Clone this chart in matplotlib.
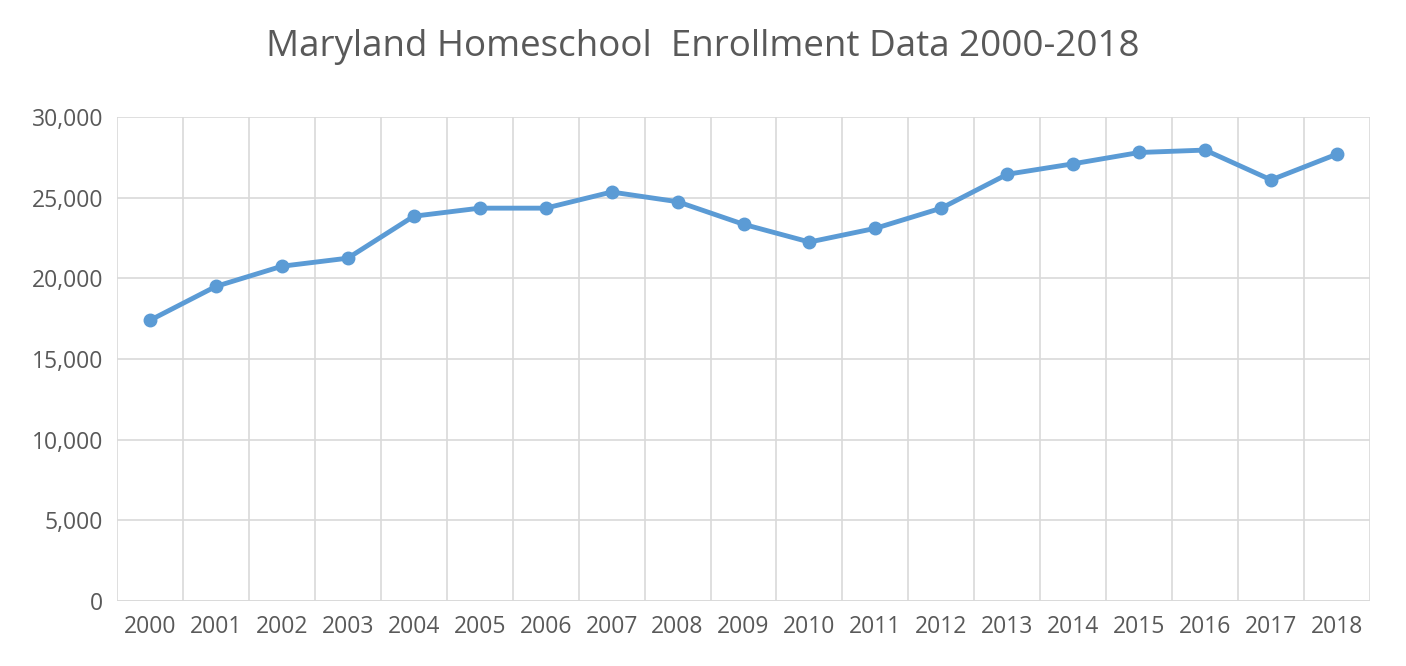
import matplotlib.pyplot as plt
from matplotlib.ticker import FuncFormatter, MultipleLocator

years = [str(y) for y in range(2000, 2019)]
enrollment = [17400, 19500, 20750, 21250, 23850, 24350, 24350, 25350, 24750, 23350,
              22250, 23100, 24350, 26450, 27100, 27800, 27950, 26100, 27700]

plt.rcParams['font.family'] = ['Open Sans', 'DejaVu Sans']
fig = plt.figure(figsize=(14.06, 6.66), dpi=100)
ax = fig.add_axes([117 / 1406, 65 / 666, 1253 / 1406, 484 / 666])

x = range(len(years))
ax.plot(x, enrollment, color="#5b9bd5", linewidth=3.5, marker="o", markersize=9, zorder=3)

ax.set_xlim(-0.5, len(years) - 0.5)
ax.set_ylim(0, 30000)
ax.yaxis.set_major_locator(MultipleLocator(5000))
ax.yaxis.set_major_formatter(FuncFormatter(lambda v, p: f"{int(v):,}"))
ax.set_xticks(list(x))
ax.set_xticklabels(years)
for b in [i + 0.5 for i in range(-1, len(years))]:
    ax.axvline(b, color="#d9d9d9", linewidth=1.2, zorder=1)
ax.grid(axis="y", color="#d9d9d9", linewidth=1.2, zorder=1)
for s in ax.spines.values():
    s.set_visible(False)
ax.axhline(0, color="#d9d9d9", linewidth=1.2)
ax.tick_params(length=0, labelsize=16.5, colors="#595959", pad=10)

fig.text(0.5, 0.93, "Maryland Homeschool  Enrollment Data 2000-2018",
         ha="center", va="center", fontsize=26.5, color="#595959")

fig.savefig("out.png", dpi=100)
